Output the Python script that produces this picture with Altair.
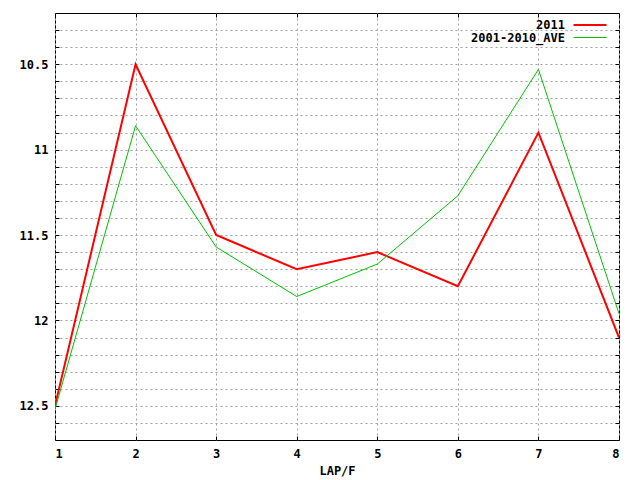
import altair as alt
import pandas as pd

laps = [1, 2, 3, 4, 5, 6, 7, 8]
series_names = ["2011", "2001-2010_AVE"]
values_2011 = [12.5, 10.5, 11.5, 11.7, 11.6, 11.8, 10.9, 12.1]
values_ave = [12.52, 10.86, 11.57, 11.86, 11.67, 11.27, 10.53, 11.96]
y_tick_values = [10.3, 10.4, 10.5, 10.6, 10.7, 10.8, 10.9, 11.0, 11.1, 11.2,
                 11.3, 11.4, 11.5, 11.6, 11.7, 11.8, 11.9, 12.0, 12.1, 12.2,
                 12.3, 12.4, 12.5, 12.6]
y_domain = [10.2, 12.7]
x_domain = [1, 8]
colors = ["#ff0000", "#00c000"]
widths = [2, 1]

rows = []
for name, vals in zip(series_names, [values_2011, values_ave]):
    for lap, v in zip(laps, vals):
        rows.append({"lap": lap, "time": v, "series": name})
df = pd.DataFrame(rows)

FONT = "DejaVu Sans Mono"
xscale = alt.Scale(domain=x_domain, nice=False, zero=False)
yscale = alt.Scale(domain=y_domain, nice=False, zero=False, reverse=True)

legend = alt.Legend(
    title=None, orient="none", legendX=528, legendY=5, padding=0,
    symbolType="M-2.75,0H2.75", symbolSize=144, labelAlign="right",
    labelOffset={"expr": "-32"},
    labelFont=FONT, labelFontSize=12, labelFontWeight="bold", labelColor="black",
    rowPadding=0,
)

lines = alt.Chart(df).mark_line(clip=True).encode(
    x=alt.X("lap:Q", scale=xscale, axis=alt.Axis(
        orient="bottom", values=laps, grid=True, ticks=False, domain=False,
        labelPadding=8, title="LAP/F", titlePadding=6, format="d")),
    y=alt.Y("time:Q", scale=yscale, axis=alt.Axis(
        orient="left", values=y_tick_values, grid=True, ticks=False, domain=False,
        labelPadding=7, title=None, format="~g",
        labelExpr="abs(datum.value*2 - round(datum.value*2)) < 0.000001 ? datum.label : ''")),
    color=alt.Color("series:N", scale=alt.Scale(domain=series_names, range=colors), legend=legend),
    strokeWidth=alt.StrokeWidth("series:N", scale=alt.Scale(domain=series_names, range=widths), legend=legend),
)

def tick_layer(xorient, yorient):
    return alt.Chart(df).mark_point(opacity=0).encode(
        x=alt.X("lap:Q", scale=xscale, axis=alt.Axis(
            orient=xorient, values=laps, labels=False, grid=False, domain=False,
            ticks=True, tickSize=4, offset=-4, title=None, tickColor="black")),
        y=alt.Y("time:Q", scale=yscale, axis=alt.Axis(
            orient=yorient, values=y_tick_values, labels=False, grid=False, domain=False,
            ticks=True, tickSize=4, offset=-4, title=None, tickColor="black")),
    )

chart = alt.layer(
    lines, tick_layer("bottom", "left"), tick_layer("top", "right")
).resolve_axis(x="independent", y="independent").properties(
    width=564, height=427,
    autosize=alt.AutoSizeParams(type="none"),
    padding={"left": 47, "top": 5, "right": 13, "bottom": 38},
).configure_view(
    stroke="black", strokeWidth=1
).configure_axis(
    labelFont=FONT, labelFontSize=12, labelFontWeight="bold", labelColor="black",
    titleFont=FONT, titleFontSize=12, titleFontWeight="bold", titleColor="black",
    gridColor="#a0a0a0", gridDash=[2, 3], gridWidth=1, gridOpacity=1,
)

chart.save("out.html", embed_options={"renderer": "svg", "actions": False})
